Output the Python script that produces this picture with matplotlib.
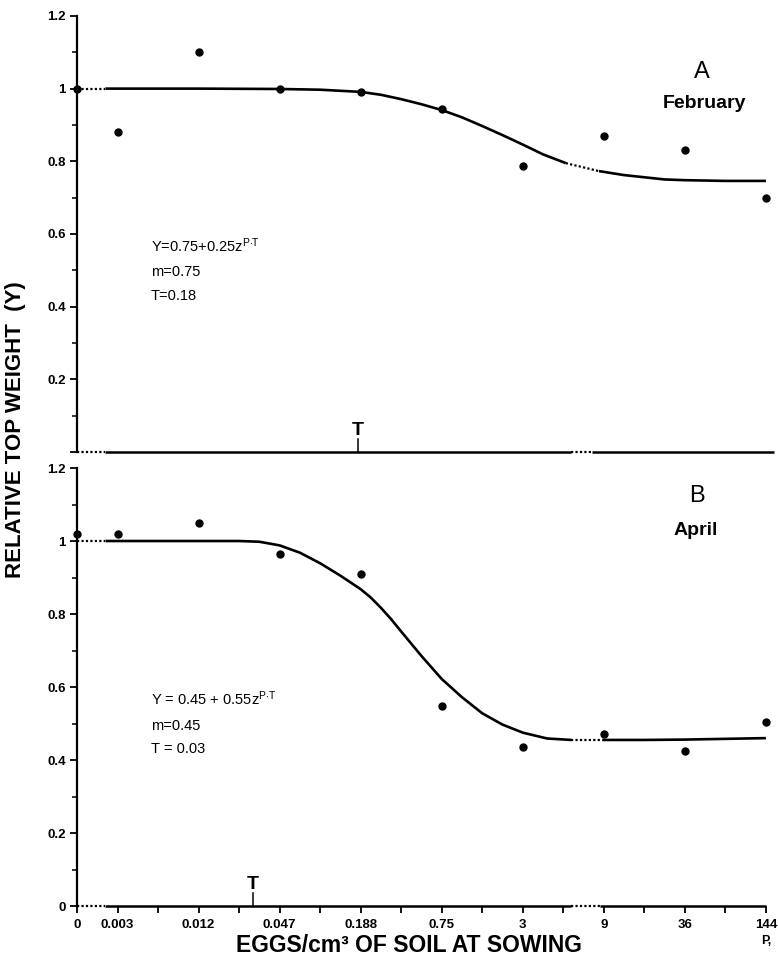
import numpy as np
import matplotlib.pyplot as plt

plt.rcParams['font.family'] = ['Liberation Sans', 'DejaVu Sans']
plt.rcParams['mathtext.fontset'] = 'custom'
plt.rcParams['mathtext.rm'] = 'Liberation Sans'
plt.rcParams['mathtext.it'] = 'Liberation Sans:italic'
plt.rcParams['mathtext.bf'] = 'Liberation Sans:bold'

# x categories (eggs per cm3 of soil)
eggs_labels = ["0", "0.003", "0.012", "0.047", "0.188", "0.75", "3", "9", "36", "144"]
eggs_values = [0, 0.003, 0.012, 0.047, 0.188, 0.75, 3, 9, 36, 144]

# observed relative top weight
feb_weight = [1.0, 0.88, 1.10, 1.0, 0.99, 0.945, 0.787, 0.87, 0.83, 0.70]
apr_weight = [1.02, 1.02, 1.05, 0.964, 0.91, 0.548, 0.435, 0.47, 0.425, 0.504]

# fitted curves (x in tick-index units)
feb_curve_x = [0.5, 0.85, 1, 2, 3, 3.5, 4, 4.25, 4.5, 4.75, 5, 5.25, 5.5, 5.75, 6,
               6.25, 6.53, 6.94, 7.25, 7.5, 7.75, 8, 8.5, 9]
feb_curve_y = [1.0, 1.0, 1.0, 1.0, 0.999, 0.997, 0.991, 0.983, 0.971, 0.957, 0.941,
               0.921, 0.897, 0.872, 0.846, 0.819, 0.795, 0.773, 0.762, 0.756, 0.750,
               0.748, 0.746, 0.746]
apr_curve_x = [0.5, 0.85, 1, 2, 2.5, 2.75, 3, 3.25, 3.5, 3.75, 4, 4.125, 4.25, 4.375,
               4.5, 4.75, 5, 5.25, 5.5, 5.75, 6, 6.3, 6.6, 6.98, 7.5, 8, 8.5, 9]
apr_curve_y = [1.0, 1.0, 1.0, 1.0, 1.0, 0.998, 0.988, 0.968, 0.939, 0.905, 0.868,
               0.845, 0.817, 0.786, 0.752, 0.685, 0.622, 0.572, 0.528, 0.497, 0.475,
               0.459, 0.455, 0.455, 0.455, 0.456, 0.458, 0.46]

feb_T, apr_T = 0.18, 0.03
feb_eq = [r"Y=0.75+0.25z$^{\mathrm{P{\cdot}T}}$", "m=0.75", "T=0.18"]
apr_eq = [r"Y = 0.45 + 0.55z$^{\mathrm{P{\cdot}T}}$", "m=0.45", "T = 0.03"]

pos = np.arange(len(eggs_labels)).astype(float)
pos[0] = 0.5
minor_pos = np.arange(1.5, 9, 1)


def t_pos(t):
    return np.interp(np.log(t), np.log(eggs_values[1:]), pos[1:])


def draw_broken(ax, x, y, breaks, lw):
    x = np.asarray(x)
    y = np.asarray(y)
    edges = [x[0]] + [b for br in breaks for b in br] + [x[-1]]
    for i in range(len(edges) - 1):
        a, b = edges[i], edges[i + 1]
        m = (x >= a) & (x <= b)
        dotted = any(abs(a - br[0]) < 1e-9 and abs(b - br[1]) < 1e-9 for br in breaks)
        ax.plot(x[m], y[m], color="black", lw=lw if not dotted else 1.6,
                ls=(0, (1, 1)) if dotted else "-", clip_on=False,
                solid_capstyle="butt")


fig = plt.figure(figsize=(7.78, 9.61), dpi=100)
ax1 = fig.add_axes([0.099, 0.5297, 0.8959, 0.4537])
ax2 = fig.add_axes([0.099, 0.0572, 0.8959, 0.4558])

panels = [
    (ax1, feb_weight, feb_curve_x, feb_curve_y, feb_T, feb_eq,
     [(0.5, 0.85), (6.53, 6.94)], [(0.5, 0.85), (6.6, 6.85)], 9.1),
    (ax2, apr_weight, apr_curve_x, apr_curve_y, apr_T, apr_eq,
     [(0.5, 0.85), (6.6, 6.98)], [(0.5, 0.85), (6.6, 6.95)], 9.0),
]

for ax, w, cx, cy, T, eq, cbreaks, abreaks, aend in panels:
    ax.set_xlim(0.5, 9.1)
    ax.set_ylim(0, 1.2)
    for s in ["top", "right", "bottom"]:
        ax.spines[s].set_visible(False)
    ax.spines["left"].set_linewidth(1.6)

    draw_broken(ax, cx, cy, cbreaks, 1.9)
    draw_broken(ax, [0.5, 0.85, abreaks[1][0], abreaks[1][1], aend],
                [0, 0, 0, 0, 0], abreaks, 1.8)
    ax.plot(pos, w, "o", color="black", ms=5, clip_on=False)

    tx = t_pos(T)
    ax.plot([tx, tx], [0, 0.035], color="black", lw=1.1)
    ax.text(tx, 0.036, "T", fontsize=14, fontweight="bold", ha="center", va="bottom")

    ax.text(1.41, 0.55, eq[0], fontsize=10.5, va="baseline")
    ax.text(1.41, 0.483, eq[1], fontsize=10.5, va="baseline")
    ax.text(1.41, 0.418, eq[2], fontsize=10.5, va="baseline")

    ax.set_yticks(np.arange(0, 1.21, 0.2))
    ax.set_yticks(np.arange(0.1, 1.2, 0.2), minor=True)
    ax.tick_params(axis="y", which="major", direction="out", length=5, width=1.3,
                   labelsize=9.5, pad=3)
    ax.tick_params(axis="y", which="minor", direction="out", length=3.5, width=1.1)

ax1.text(8.21, 1.047, "A", fontsize=17, ha="center", va="center")
ax1.text(8.24, 0.959, "February", fontsize=14, fontweight="bold", ha="center", va="center")
ax2.text(8.15, 1.123, "B", fontsize=17, ha="center", va="center")
ax2.text(8.13, 1.03, "April", fontsize=14, fontweight="bold", ha="center", va="center")

ax1.set_yticklabels(["", "0.2", "0.4", "0.6", "0.8", "1", "1.2"])
ax2.set_yticklabels(["0", "0.2", "0.4", "0.6", "0.8", "1", "1.2"])
for ax in (ax1, ax2):
    for lab in ax.get_yticklabels():
        lab.set_fontweight("bold")

ax1.tick_params(axis="x", which="both", bottom=False, labelbottom=False)
ax2.set_xticks(pos, eggs_labels)
ax2.set_xticks(minor_pos, minor=True)
ax2.tick_params(axis="x", which="both", direction="out", length=5, width=1.3,
                labelsize=9.5, pad=4)
for lab in ax2.get_xticklabels():
    lab.set_fontweight("bold")

ax2.text(9.0, -0.078, "P,", fontsize=9, fontweight="bold", ha="center", va="top")

fig.text(409 / 778, 1 - 945 / 961, "EGGS/cm³ OF SOIL AT SOWING", fontsize=16.5,
         fontweight="bold", ha="center", va="center")
fig.text(16 / 778, 1 - 430 / 961, "RELATIVE TOP WEIGHT  (Y)", fontsize=16,
         fontweight="bold", ha="center", va="center", rotation=90)

fig.savefig("out.png", dpi=100)
